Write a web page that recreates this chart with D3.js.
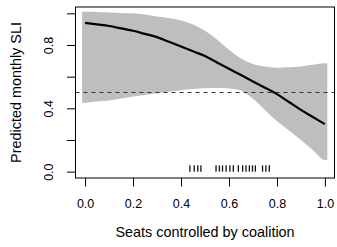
<!DOCTYPE html>
<html>
<head>
<meta charset="utf-8">
<script src="https://d3js.org/d3.v7.min.js"></script>
<style>
  body { margin: 0; background: #fff; }
</style>
</head>
<body>
<script>
// band / fit grid
var xs      = [0, 0.05, 0.1, 0.15, 0.2, 0.25, 0.3, 0.35, 0.4, 0.45, 0.5, 0.55, 0.6, 0.65, 0.7, 0.75, 0.8, 0.85, 0.9, 0.95, 1.0];
var fit     = [0.94, 0.93, 0.92, 0.905, 0.89, 0.87, 0.85, 0.82, 0.79, 0.76, 0.73, 0.69, 0.65, 0.61, 0.57, 0.53, 0.49, 0.44, 0.39, 0.345, 0.30];
var upper   = [1.01, 1.008, 1.005, 1.002, 1.0, 0.992, 0.98, 0.97, 0.955, 0.93, 0.89, 0.835, 0.77, 0.715, 0.68, 0.664, 0.657, 0.659, 0.665, 0.675, 0.685];
var lower   = [0.436, 0.443, 0.45, 0.462, 0.475, 0.485, 0.495, 0.505, 0.515, 0.522, 0.527, 0.528, 0.525, 0.512, 0.46, 0.39, 0.32, 0.26, 0.2, 0.137, 0.074];
var bandLeft = -0.0125, bandRight = 1.01;   // the grey band sticks out a little past 0 and 1
var refLine = 0.5;
var rugX = [0.437, 0.455, 0.47, 0.483, 0.546, 0.56, 0.573, 0.588, 0.604, 0.618, 0.639, 0.657, 0.671, 0.685, 0.698, 0.71, 0.74, 0.754, 0.768];
var xTicks = [0, 0.2, 0.4, 0.6, 0.8, 1.0];
var yTicks = [0, 0.2, 0.4, 0.6, 0.8, 1.0];
var yLabels = [0, 0.4, 0.8];

var W = 337, H = 247,
    plotL = 75.5, plotR = 334.5, plotT = 7, plotB = 178,
    font = "'Liberation Sans', Arial, sans-serif";

var svg = d3.select("body").append("svg")
    .attr("width", W)
    .attr("height", H);

var x = d3.scaleLinear().domain([-0.04, 1.04]).range([plotL, plotR]);
var y = d3.scaleLinear().domain([-0.04, 1.04]).range([plotB, plotT]);

// band rows, with the small overhang at both ends
var band = xs.map((d, i) => ({x: d, lo: lower[i], hi: upper[i]}));
band.unshift({x: bandLeft, lo: lower[0], hi: upper[0]});
band.push({x: bandRight, lo: lower[lower.length - 1], hi: upper[upper.length - 1]});

svg.append("path")
    .datum(band)
    .attr("fill", "#bebebe")
    .attr("d", d3.area()
        .curve(d3.curveMonotoneX)
        .x(d => x(d.x))
        .y0(d => y(d.lo))
        .y1(d => y(d.hi)));

// dashed reference line
svg.append("line")
    .attr("x1", plotL).attr("x2", plotR)
    .attr("y1", y(refLine)).attr("y2", y(refLine))
    .attr("stroke", "#333")
    .attr("stroke-width", 1)
    .attr("stroke-dasharray", "4,4");

// fitted line
svg.append("path")
    .datum(xs.map((d, i) => [d, fit[i]]))
    .attr("fill", "none")
    .attr("stroke", "#000")
    .attr("stroke-width", 2.2)
    .attr("d", d3.line()
        .curve(d3.curveMonotoneX)
        .x(d => x(d[0]))
        .y(d => y(d[1])));

// rug of observations
svg.append("g").selectAll("line")
    .data(rugX)
    .enter().append("line")
    .attr("x1", d => x(d)).attr("x2", d => x(d))
    .attr("y1", y(0.04)).attr("y2", y(0.0))
    .attr("stroke", "#111")
    .attr("stroke-width", 1.3);

// box
svg.append("rect")
    .attr("x", plotL).attr("y", plotT)
    .attr("width", plotR - plotL).attr("height", plotB - plotT)
    .attr("fill", "none")
    .attr("stroke", "#000")
    .attr("stroke-width", 1);

// x axis
var gx = svg.append("g")
    .attr("transform", "translate(0," + plotB + ")")
    .call(d3.axisBottom(x)
        .tickValues(xTicks)
        .tickSize(8.5)
        .tickPadding(12.6)
        .tickFormat(d3.format(".1f")));
gx.attr("font-size", 12.5).attr("font-family", font);
gx.select(".domain").remove();
gx.selectAll(".tick line").attr("stroke", "#000");
gx.selectAll(".tick text").attr("fill", "#000");

// y axis, labels turned like R does
var gy = svg.append("g")
    .attr("transform", "translate(" + plotL + ",0)")
    .call(d3.axisLeft(y)
        .tickValues(yTicks)
        .tickSize(8.5)
        .tickFormat(d => yLabels.indexOf(d) >= 0 ? d3.format(".1f")(d) : ""));
gy.attr("font-size", 12.5).attr("font-family", font);
gy.select(".domain").remove();
gy.selectAll(".tick line").attr("stroke", "#000");
gy.selectAll(".tick text")
    .attr("fill", "#000")
    .attr("transform", "rotate(-90)")
    .attr("x", 0)
    .attr("y", -22.5)
    .attr("dy", 0)
    .attr("text-anchor", "middle");

// titles
svg.append("text")
    .attr("x", (plotL + plotR) / 2)
    .attr("y", 237)
    .attr("text-anchor", "middle")
    .style("font-family", font)
    .style("font-size", "14.4px")
    .text("Seats controlled by coalition");

svg.append("text")
    .attr("transform", "translate(20.5," + ((plotT + plotB) / 2) + ") rotate(-90)")
    .attr("text-anchor", "middle")
    .style("font-family", font)
    .style("font-size", "14.4px")
    .text("Predicted monthly SLI");
</script>
</body>
</html>
